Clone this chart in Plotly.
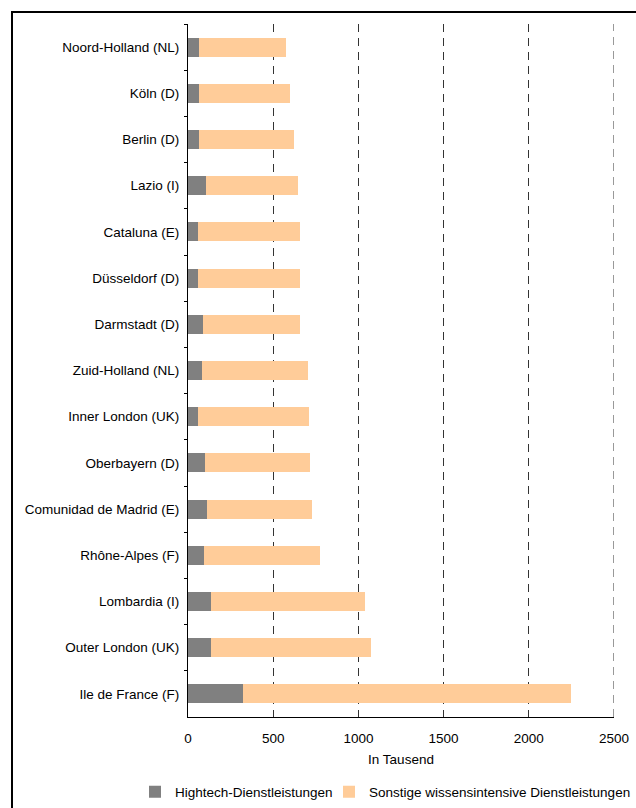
import plotly.graph_objects as go

regions = ["Noord-Holland (NL)", "Köln (D)", "Berlin (D)", "Lazio (I)", "Cataluna (E)",
           "Düsseldorf (D)", "Darmstadt (D)", "Zuid-Holland (NL)", "Inner London (UK)",
           "Oberbayern (D)", "Comunidad de Madrid (E)", "Rhône-Alpes (F)", "Lombardia (I)",
           "Outer London (UK)", "Ile de France (F)"]
hightech = [65, 65, 65, 106, 59, 59, 90, 82, 59, 100, 111, 94, 135, 135, 323]
sonstige = [510, 534, 557, 539, 598, 598, 567, 622, 651, 616, 617, 681, 904, 939, 1925]
x_ticks = [0, 500, 1000, 1500, 2000, 2500]

font = dict(family="Liberation Sans, Arial, sans-serif", size=13.5, color="#000000")

fig = go.Figure()
fig.add_trace(go.Bar(y=regions, x=hightech, orientation="h", name="Hightech-Dienstleistungen",
                     marker=dict(color="#808080", line=dict(width=0)), legend="legend",
                     showlegend=True))
fig.add_trace(go.Bar(y=regions, x=sonstige, orientation="h",
                     name="Sonstige wissensintensive Dienstleistungen",
                     marker=dict(color="#FFCC99", line=dict(width=0)), legend="legend2",
                     showlegend=True))

L, R, T, B = 188, 22, 24, 91
W, H = 636, 808
pw, ph = W - L - R, H - T - B
leg_y = (T + ph - 792) / ph

fig.update_layout(
    width=W, height=H, barmode="stack", bargap=0.59, showlegend=True,
    margin=dict(l=L, r=R, t=T, b=B, autoexpand=False),
    paper_bgcolor="white", plot_bgcolor="white", font=font,
    xaxis=dict(range=[0, 2500], tickvals=x_ticks, showgrid=True, gridcolor="#333333",
               griddash="8px,6px", gridwidth=1, zeroline=False, showline=True,
               linecolor="#000000", linewidth=1, ticks="", fixedrange=True,
               ticklabelstandoff=9,
               title=dict(text="In Tausend", standoff=9, font=font)),
    yaxis=dict(autorange="reversed", showline=True, linecolor="#000000", linewidth=1,
               ticks="outside", ticklen=3, tickcolor="#000000", tickson="boundaries",
               ticklabelstandoff=5, showgrid=False, zeroline=False),
    legend=dict(orientation="h", x=(135 - L) / pw, xanchor="left", visible=True,
                y=leg_y, yanchor="middle", itemwidth=30, font=font,
                bgcolor="rgba(0,0,0,0)"),
    legend2=dict(orientation="h", x=(329 - L) / pw, xanchor="left", visible=True,
                 y=leg_y, yanchor="middle", itemwidth=30, font=font,
                 bgcolor="rgba(0,0,0,0)"),
    shapes=[dict(type="rect", xref="paper", yref="paper",
                 x0=(12 - L) / pw, x1=(645 - L) / pw,
                 y0=(T + ph - 815) / ph, y1=(T + ph - 12) / ph,
                 line=dict(color="#000000", width=2), fillcolor="rgba(0,0,0,0)", layer="below"),
            dict(type="line", xref="x", yref="paper", x0=x_ticks[-1], x1=x_ticks[-1], y0=0, y1=1,
                 line=dict(color="#333333", width=1, dash="8px,6px"), layer="below")],
)

fig.write_html("out.html")
